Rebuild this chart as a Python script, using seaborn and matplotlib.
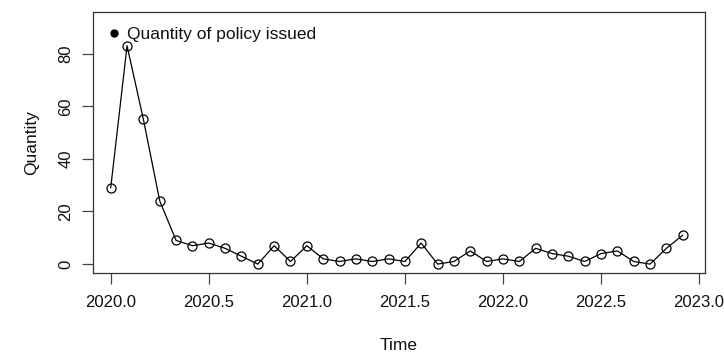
import matplotlib
matplotlib.use("Agg")
import matplotlib.pyplot as plt
from matplotlib.lines import Line2D
import numpy as np
import pandas as pd
import seaborn as sns

# Monthly counts, Jan 2020 - Dec 2022
year_2020 = [29, 83, 55, 24, 9, 7, 8, 6, 3, 0, 7, 1]
year_2021 = [7, 2, 1, 2, 1, 2, 1, 8, 0, 1, 5, 1]
year_2022 = [2, 1, 6, 4, 3, 1, 4, 5, 1, 0, 6, 11]
start_year = 2020
x_ticks = [2020.0, 2020.5, 2021.0, 2021.5, 2022.0, 2022.5, 2023.0]
y_ticks = [0, 20, 40, 60, 80]

quantity = year_2020 + year_2021 + year_2022
time = [start_year + i / 12 for i in range(len(quantity))]
df = pd.DataFrame({"Time": time, "Quantity": quantity})

sns.set_style("ticks")
plt.rcParams["font.family"] = ["Liberation Sans", "DejaVu Sans"]
plt.rcParams["text.color"] = "#111111"
plt.rcParams["axes.labelcolor"] = "#111111"
plt.rcParams["xtick.labelcolor"] = "#111111"
plt.rcParams["ytick.labelcolor"] = "#111111"

fig = plt.figure(figsize=(7.24, 3.56), dpi=100)
ax = fig.add_axes([0.128, 0.233, 0.846, 0.733])

sns.lineplot(data=df, x="Time", y="Quantity", ax=ax, color="black",
             linewidth=0.9, marker="o", markersize=6.5,
             markerfacecolor="none", markeredgecolor="black",
             markeredgewidth=0.9)

ax.set_xlim(2019.908, 2023.031)
ax.set_ylim(-3.4, 95.8)
ax.set_xticks(x_ticks)
ax.set_xticklabels([f"{t:.1f}" for t in x_ticks], fontsize=12)
ax.set_yticks(y_ticks)
ax.set_yticklabels([str(t) for t in y_ticks], fontsize=12, rotation=90,
                   va="center")
ax.tick_params(axis="both", length=8, width=0.9, color="#444444",
               pad=6)
ax.tick_params(axis="x", pad=8)
for s in ax.spines.values():
    s.set_visible(True)
    s.set_linewidth(0.9)
    s.set_color("#333333")

ax.set_xlabel("Time", fontsize=12.5, labelpad=20)
ax.set_ylabel("Quantity", fontsize=12.5, labelpad=14)

handle = Line2D([], [], color="black", marker="o", linestyle="none",
                markersize=5)
ax.legend([handle], ["Quantity of policy issued"], loc="upper left",
          frameon=False, fontsize=12.5, handletextpad=0.3,
          borderaxespad=0.45, handlelength=0.8)

fig.savefig("out.png", dpi=100)
